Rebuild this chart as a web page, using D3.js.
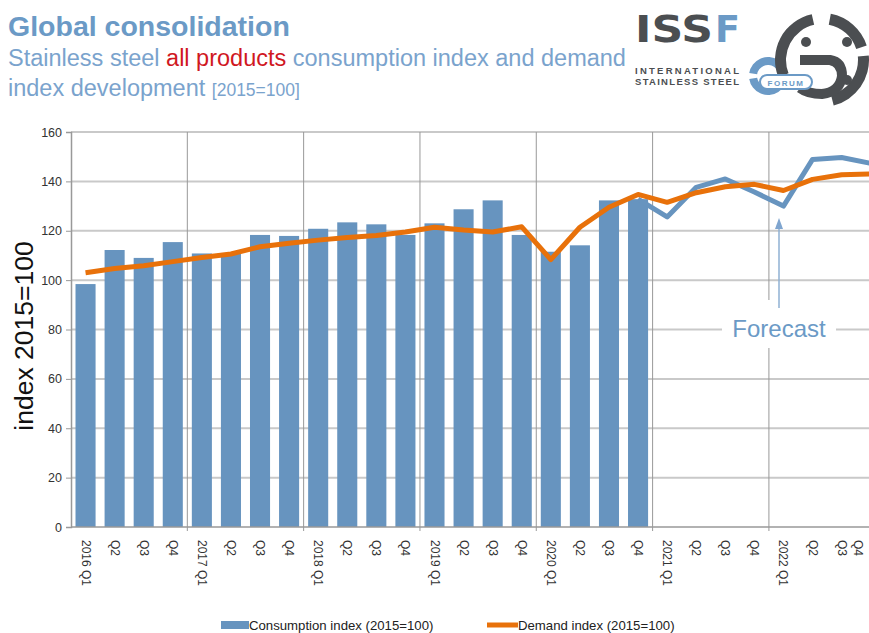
<!DOCTYPE html>
<html>
<head>
<meta charset="utf-8">
<script src="https://cdn.jsdelivr.net/npm/d3@7"></script>
<style>
  html, body { margin: 0; padding: 0; background: #fff; }
  svg { display: block; font-family: "Liberation Sans", Arial, sans-serif; }
</style>
</head>
<body>
<div id="chart"></div>
<script>
// quarters on the x axis
var quarters = ["2016 Q1","Q2","Q3","Q4","2017 Q1","Q2","Q3","Q4",
                "2018 Q1","Q2","Q3","Q4","2019 Q1","Q2","Q3","Q4",
                "2020 Q1","Q2","Q3","Q4","2021 Q1","Q2","Q3","Q4",
                "2022 Q1","Q2","Q3","Q4"];

// consumption index, actual (bars) 2016 Q1 - 2020 Q4
var consumption = [98.4,112.2,109,115.4,110.8,111,118.3,117.9,
                   120.8,123.4,122.6,118.3,123,128.7,132.3,118.3,
                   111.5,114.1,132.3,132.8];

// consumption index forecast (line) 2020 Q4 - 2022 Q4
var consumptionForecast = [132.8,125.6,137.6,141,135.7,130,148.9,149.7,147.3];

// demand index 2016 Q1 - 2022 Q4
var demand = [103,104.7,105.8,107.5,109.2,110.6,113.5,114.9,
              116.2,117.3,118.1,119.5,121.4,120.3,119.5,121.6,
              108.3,121.4,129.5,134.7,131.5,135.4,137.8,138.8,
              136.3,140.8,142.7,143];

var yTicks = [0,20,40,60,80,100,120,140,160];

var W = 869, H = 633;
var margin = {left: 71, top: 132, bottom: 527};
var blue = "#6794bf", orange = "#e8710a";

var svg = d3.select("#chart").append("svg")
  .attr("width", W).attr("height", H);

// ---- titles
svg.append("text").attr("x", 8).attr("y", 36)
  .attr("font-size", 28.5).attr("font-weight", "bold").attr("fill", "#6b9ac6")
  .text("Global consolidation");

var sub1 = svg.append("text").attr("x", 8).attr("y", 66)
  .attr("font-size", 23.5).attr("fill", "#7aa3cd");
sub1.append("tspan").text("Stainless steel ");
sub1.append("tspan").attr("fill", "#d0181f").text("all products");
sub1.append("tspan").text(" consumption index and demand");

var sub2 = svg.append("text").attr("x", 8).attr("y", 96)
  .attr("font-size", 23.5).attr("fill", "#7aa3cd");
sub2.append("tspan").text("index development ");
sub2.append("tspan").attr("font-size", 17.5).text("[2015=100]");

// ---- logo
var logo = svg.append("g");
logo.append("text").attr("x", 635).attr("y", 42)
  .attr("font-size", 38).attr("font-weight", "bold").attr("fill", "#4b4e51")
  .attr("font-family", "DejaVu Sans, sans-serif")
  .attr("textLength", 78).attr("lengthAdjust", "spacingAndGlyphs").text("ISS");
logo.append("text").attr("x", 715).attr("y", 42)
  .attr("font-size", 38).attr("font-weight", "bold").attr("fill", "#6b9ac6")
  .attr("font-family", "DejaVu Sans, sans-serif")
  .attr("textLength", 25).attr("lengthAdjust", "spacingAndGlyphs").text("F");
logo.append("text").attr("x", 635).attr("y", 74)
  .attr("font-size", 9.5).attr("font-weight", "bold").attr("fill", "#4b4e51")
  .attr("textLength", 104).attr("lengthAdjust", "spacing").text("INTERNATIONAL");
logo.append("text").attr("x", 635).attr("y", 85)
  .attr("font-size", 9.5).attr("font-weight", "bold").attr("fill", "#4b4e51")
  .attr("textLength", 104).attr("lengthAdjust", "spacing").text("STAINLESS STEEL");

// blue C
var arcC = d3.arc().innerRadius(11).outerRadius(19);
logo.append("path")
  .attr("d", arcC({startAngle: Math.PI * 0.05, endAngle: Math.PI * 1.95}))
  .attr("fill", "#6b9ac6").attr("transform", "translate(768,76) rotate(-90)");
// dark ring
var arcR = d3.arc().innerRadius(36).outerRadius(47);
[[0.06, 0.40], [0.47, 0.92], [1.38, 1.93]].forEach(function(a) {
  logo.append("path").attr("transform", "translate(822,60)")
    .attr("d", arcR({startAngle: Math.PI * a[0], endAngle: Math.PI * a[1]}))
    .attr("fill", "#4b4e51");
});
// inner "5" stroke
logo.append("path")
  .attr("d", "M800,60 L830,60 Q842,62 842,76 Q840,92 822,94 Q808,94 800,88")
  .attr("fill", "none").attr("stroke", "#4b4e51").attr("stroke-width", 10);
[[806, 42], [847, 42], [847, 80]].forEach(function(p) {
  logo.append("circle").attr("cx", p[0]).attr("cy", p[1]).attr("r", 5).attr("fill", "#4b4e51");
});
logo.append("rect").attr("x", 760).attr("y", 75).attr("width", 52).attr("height", 14)
  .attr("rx", 7).attr("fill", "#fff").attr("stroke", "#6b9ac6").attr("stroke-width", 2);
logo.append("text").attr("x", 786).attr("y", 85.5).attr("text-anchor", "middle")
  .attr("font-size", 8).attr("font-weight", "bold").attr("fill", "#6b9ac6")
  .attr("letter-spacing", 1.5).text("FORUM");

// ---- scales
var x = d3.scaleBand().domain(d3.range(quarters.length))
  .range([margin.left, margin.left + 29.08 * quarters.length])
  .paddingInner(0.31).paddingOuter(0.155);
var step = x.step();
var y = d3.scaleLinear().domain([0, 160]).range([margin.bottom, margin.top]);
var xRight = margin.left + step * quarters.length;
var cx = function(i) { return x(i) + x.bandwidth() / 2; };

// horizontal grid
svg.append("g").selectAll("line").data(yTicks.slice(1)).enter().append("line")
  .attr("x1", margin.left).attr("x2", xRight)
  .attr("y1", function(d) { return y(d); }).attr("y2", function(d) { return y(d); })
  .attr("stroke", "#c9c9c9").attr("stroke-width", 2);

// vertical year lines
var yearIdx = [4, 8, 12, 16, 20, 24];
svg.append("g").selectAll("line").data(yearIdx).enter().append("line")
  .attr("x1", function(d) { return margin.left + d * step; })
  .attr("x2", function(d) { return margin.left + d * step; })
  .attr("y1", margin.top).attr("y2", margin.bottom + 4)
  .attr("stroke", "#999").attr("stroke-width", 1);

// y axis
var yAxis = svg.append("g").attr("transform", "translate(" + margin.left + ",0)")
  .call(d3.axisLeft(y).tickValues(yTicks).tickSize(5).tickPadding(4));
yAxis.select(".domain").attr("stroke", "#999").attr("stroke-width", 1.5);
yAxis.selectAll(".tick line").attr("stroke", "#999");
yAxis.selectAll(".tick text").attr("font-size", 12.5).attr("fill", "#333")
  .attr("font-family", "Liberation Sans, Arial, sans-serif");

svg.append("text").attr("transform", "translate(33,336) rotate(-90)")
  .attr("text-anchor", "middle").attr("font-size", 26.5).attr("fill", "#111")
  .text("index 2015=100");

// bars
svg.append("g").selectAll("rect").data(consumption).enter().append("rect")
  .attr("x", function(d, i) { return x(i); })
  .attr("width", x.bandwidth())
  .attr("y", function(d) { return y(d); })
  .attr("height", function(d) { return y(0) - y(d); })
  .attr("fill", blue);

// x axis line
svg.append("line").attr("x1", margin.left).attr("x2", xRight)
  .attr("y1", margin.bottom).attr("y2", margin.bottom)
  .attr("stroke", "#999").attr("stroke-width", 1.5);

// x labels (last one nudged in so it stays inside the window)
svg.append("g").selectAll("text").data(quarters).enter().append("text")
  .attr("transform", function(d, i) { return "translate(" + Math.min(cx(i) - 4, 854) + ",540) rotate(90)"; })
  .attr("font-size", 12).attr("fill", "#333").text(function(d) { return d; });

// forecast annotation
svg.append("rect").attr("x", 722).attr("y", 300).attr("width", 114).attr("height", 48).attr("fill", "#fff");
svg.append("text").attr("x", 779).attr("y", 337).attr("text-anchor", "middle")
  .attr("font-size", 24).attr("fill", "#6b9ac6").text("Forecast");
svg.append("line").attr("x1", 779).attr("x2", 779).attr("y1", 308).attr("y2", 226)
  .attr("stroke", "#8fb0d3").attr("stroke-width", 1.5);
svg.append("path").attr("d", "M779,218 L775,229 L783,229 Z").attr("fill", "#7fa5cf");

// lines
var line = d3.line().x(function(d) { return cx(d.i); }).y(function(d) { return y(d.v); });
var fcStart = consumption.length - 1;
svg.append("path")
  .datum(consumptionForecast.map(function(v, k) { return {i: fcStart + k, v: v}; }))
  .attr("d", line).attr("fill", "none").attr("stroke", blue).attr("stroke-width", 5)
  .attr("stroke-linejoin", "round");
svg.append("path")
  .datum(demand.map(function(v, i) { return {i: i, v: v}; }))
  .attr("d", line).attr("fill", "none").attr("stroke", orange).attr("stroke-width", 5)
  .attr("stroke-linejoin", "round");

// legend
var leg = svg.append("g");
leg.append("rect").attr("x", 221).attr("y", 621).attr("width", 28).attr("height", 8).attr("fill", blue);
leg.append("text").attr("x", 249).attr("y", 630).attr("font-size", 13.2).attr("fill", "#222")
  .text("Consumption index (2015=100)");
leg.append("line").attr("x1", 487).attr("x2", 518).attr("y1", 625).attr("y2", 625)
  .attr("stroke", orange).attr("stroke-width", 5);
leg.append("text").attr("x", 518).attr("y", 630).attr("font-size", 13.2).attr("fill", "#222")
  .text("Demand index (2015=100)");
</script>
</body>
</html>
